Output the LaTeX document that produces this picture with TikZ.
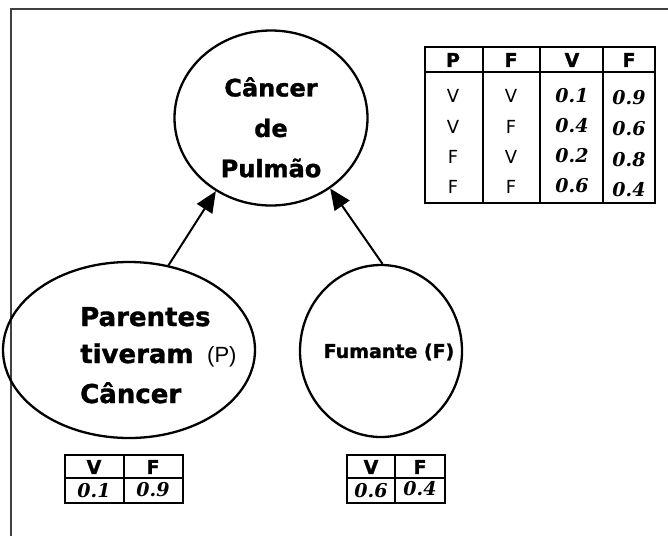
\documentclass[tikz,border=0pt]{standalone}
\usepackage{fontspec}
\setmainfont{DejaVu Sans}
\newfontfamily\hvy{DejaVu Sans}[BoldFeatures={FakeBold=1.3}]
\newfontfamily\regf{Liberation Sans}
\newfontfamily\numf{DejaVu Serif}
\usetikzlibrary{shapes.geometric,arrows.meta}
\begin{document}
\begin{tikzpicture}[x=1pt,y=-1pt,
  oval/.style={draw, ellipse, line width=2.3pt, inner sep=0pt},
  arr/.style={line width=2pt, -{Triangle[length=21pt,width=18pt]}},
  tbl/.style={line width=1.3pt},
  hd/.style={font=\fontsize{19}{19}\selectfont\hvy\bfseries, inner sep=0pt},
  val/.style={font=\fontsize{18}{18}\selectfont, inner sep=0pt},
  num/.style={font=\fontsize{19}{19}\selectfont\numf\bfseries\itshape, inner sep=0pt},
  big/.style={font=\fontsize{24}{24}\selectfont\hvy\bfseries, inner sep=0pt},
  bigl/.style={font=\fontsize{26}{26}\selectfont\hvy\bfseries, inner sep=0pt}
]
\useasboundingbox (0,0) rectangle (668,536);
% frame
\draw[line width=1.8pt, black!75] (11,536) -- (11,9) -- (668,9);

% ellipses
\node[oval, minimum width=193pt, minimum height=175pt] (C) at (271,118) {};
\node[oval, minimum width=252pt, minimum height=176pt] (P) at (129,350) {};
\node[oval, minimum width=162pt, minimum height=172pt] (F) at (381,351) {};

% texts in ellipses
\node[big] (c1) at (271,87) {Câncer};
\node[big] (c2) at (271,128) {de};
\node[big] (c3) at (271,168) {Pulmão};
\node[bigl, anchor=base west] (p1) at (80,326) {Parentes};
\node[bigl, anchor=base west] (p2) at (80,363) {tiveram};
\node[bigl, anchor=base west] (p3) at (80,403) {Câncer};
\node[font=\fontsize{22}{22}\selectfont\regf, inner sep=0pt, anchor=base west] (p4) at (207,362) {(P)};
\node[font=\fontsize{19}{19}\selectfont\hvy\bfseries, inner sep=0pt] (f1) at (389,352) {Fumante (F)};

% arrows
\draw[arr] (P.65) -- (C.233);
\draw[arr] (F.89) -- (C.310);

% top table
\draw[tbl] (425,47) rectangle (655,203);
\draw[tbl] (483,47) -- (483,203);
\draw[tbl] (540,47) -- (540,203);
\draw[tbl] (603,47) -- (603,203);
\draw[tbl] (425,72) -- (655,72);
\node[hd] (t11) at (453,60) {P};
\node[hd] (t12) at (511,60) {F};
\node[hd] (t13) at (572,60) {V};
\node[hd] (t14) at (629,60) {F};
\node[val] (t21) at (453,96) {V};
\node[val] (t22) at (511,96) {V};
\node[num] (t23) at (572,96) {0.1};
\node[num] (t24) at (629,98) {0.9};
\node[val] (t31) at (453,127) {V};
\node[val] (t32) at (511,127) {F};
\node[num] (t33) at (572,126) {0.4};
\node[num] (t34) at (629,129) {0.6};
\node[val] (t41) at (453,157) {F};
\node[val] (t42) at (511,157) {V};
\node[num] (t43) at (572,156) {0.2};
\node[num] (t44) at (629,160) {0.8};
\node[val] (t51) at (453,187) {F};
\node[val] (t52) at (511,187) {F};
\node[num] (t53) at (572,186) {0.6};
\node[num] (t54) at (629,190) {0.4};

% bottom-left table
\draw[tbl] (65,455) rectangle (183,503);
\draw[tbl] (124,455) -- (124,503);
\draw[tbl] (65,478) -- (183,478);
\node[hd] (a1) at (94,467) {V};
\node[hd] (a2) at (153,467) {F};
\node[num] (a3) at (94,491) {0.1};
\node[num] (a4) at (153,490) {0.9};

% bottom-right table
\draw[tbl] (347,455) rectangle (445,503);
\draw[tbl] (395,455) -- (395,503);
\draw[tbl] (347,478) -- (445,478);
\node[hd] (b1) at (371,467) {V};
\node[hd] (b2) at (420,467) {F};
\node[num] (b3) at (371,491) {0.6};
\node[num] (b4) at (420,489) {0.4};
\end{tikzpicture}
\end{document}
